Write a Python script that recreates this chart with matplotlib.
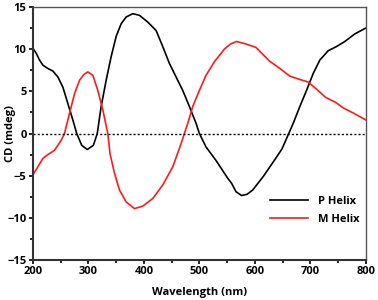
import matplotlib
matplotlib.use("Agg")
import matplotlib.pyplot as plt
from matplotlib.ticker import MultipleLocator

plt.rcParams['font.family'] = ['Open Sans', 'DejaVu Sans']
plt.rcParams['font.weight'] = 'bold'

p_wl = [200, 206, 212, 218, 227, 236, 245, 254, 263, 272, 279, 288, 298, 309, 316, 323, 332, 341, 350, 359, 368, 380, 392, 407,
        422, 434, 446, 458, 470, 482, 494, 500, 512, 530, 551, 558, 566, 576, 586, 596, 615, 639, 649, 661, 669, 681, 693, 705,
        717, 732, 747, 762, 780, 800]
p_cd = [10.1, 9.5, 8.7, 8.1, 7.7, 7.4, 6.7, 5.5, 3.55, 1.6, 0.0, -1.4, -1.9, -1.4, 0.0, 3.2, 6.3, 9.1, 11.5, 13.0, 13.8, 14.2, 14.0, 13.2,
        12.2, 10.3, 8.3, 6.7, 5.1, 3.2, 1.2, 0.0, -1.6, -3.2, -5.3, -5.9, -6.9, -7.35, -7.2, -6.7, -5.1, -2.8, -1.8, 0.0, 1.2, 3.2, 5.1, 7.1,
        8.7, 9.8, 10.3, 10.9, 11.8, 12.5]

m_wl = [200, 209, 218, 227, 239, 251, 257, 266, 275, 284, 292, 299, 308, 317, 326, 335, 339, 347, 356, 368, 383, 398, 416, 434,
        452, 466, 473, 480, 488, 500, 512, 527, 545, 556, 567, 584, 602, 614, 626, 645, 663, 681, 696, 712, 727, 745, 760, 778, 800]
m_cd = [-4.9, -3.95, -2.96, -2.5, -2.0, -0.8, 0.0, 2.4, 4.7, 6.3, 7.0, 7.3, 6.9, 5.1, 2.8, 0.0, -2.4, -4.7, -6.7, -8.1, -8.9, -8.6, -7.7, -6.1,
        -3.95, -1.4, 0.0, 1.4, 3.2, 5.1, 6.9, 8.5, 10.0, 10.6, 10.9, 10.6, 10.2, 9.4, 8.6, 7.7, 6.8, 6.4, 6.1, 5.2, 4.3, 3.7, 3.0, 2.4, 1.6]

fig = plt.figure(figsize=(3.78, 3.0), dpi=100)
ax = fig.add_axes([0.087, 0.133, 0.881, 0.844])

ax.plot(p_wl, p_cd, color='black', lw=1.2, label='P Helix')
ax.plot(m_wl, m_cd, color='#ff1a1a', lw=1.2, label='M Helix')
ax.axhline(0, color='black', lw=1.0, ls=(0, (1.5, 1.5)))

ax.set_xlim(200, 800)
ax.set_ylim(-15, 15)
ax.xaxis.set_major_locator(MultipleLocator(100))
ax.xaxis.set_minor_locator(MultipleLocator(50))
ax.yaxis.set_major_locator(MultipleLocator(5))
ax.yaxis.set_minor_locator(MultipleLocator(2.5))
ax.tick_params(which='both', direction='out', width=1.2, labelsize=8, top=False, right=False, pad=1.5)
ax.tick_params(which='major', length=3)
ax.tick_params(which='minor', length=2)
for s in ['left', 'bottom']:
    ax.spines[s].set_linewidth(1.5)
    ax.spines[s].set_color('#333333')
for s in ['top', 'right']:
    ax.spines[s].set_linewidth(1.0)
    ax.spines[s].set_color('#555555')

ax.set_xlabel('Wavelength (nm)', fontsize=8, fontweight='bold')
ax.set_ylabel('CD (mdeg)', fontsize=8, fontweight='bold')
ax.xaxis.set_label_coords(0.5, -0.108)
ax.yaxis.set_label_coords(-0.068, 0.5)
ax.yaxis.label.set_verticalalignment('center')

leg = ax.legend(loc='lower right', bbox_to_anchor=(1.01, 0.10), frameon=False,
                fontsize=8, handlelength=3.4, handletextpad=0.9, labelspacing=0.6)
for t in leg.get_texts():
    t.set_fontweight('bold')

fig.savefig('out.png', dpi=100)
